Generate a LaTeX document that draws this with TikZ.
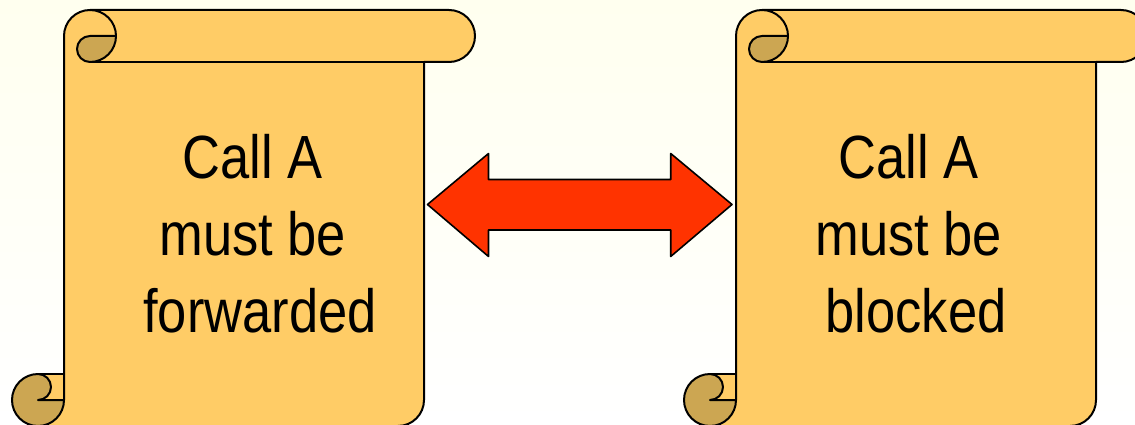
\documentclass[tikz,border=0pt]{standalone}
\usepackage{fontspec}
\setmainfont[FakeStretch=0.86]{Liberation Sans}
\definecolor{papertop}{HTML}{FFFFEF}
\definecolor{paperbottom}{HTML}{FFFFFF}
\definecolor{scrollfill}{HTML}{FFCC66}
\definecolor{rollfill}{HTML}{CCA652}
\definecolor{arrowred}{HTML}{FF3300}
\tikzset{
  outline/.style={draw=black,line width=2pt,line join=round},
  textblock/.style={font=\fontsize{61}{77}\selectfont,align=center,inner sep=0pt,text=black},
  scrollshape/.pic={
    \fill[scrollfill]
      (64,388) arc[start angle=180,end angle=90,radius=26] -- (449,414)
      arc[start angle=90,end angle=-90,radius=26] -- (424,362) -- (424,24)
      arc[start angle=0,end angle=-90,radius=26] -- (38,-2) -- (64,24) -- cycle;
    \path[outline]
      (64,24) -- (64,388) arc[start angle=180,end angle=90,radius=26] -- (449,414)
      arc[start angle=90,end angle=-90,radius=26] -- (424,362) -- (424,24)
      arc[start angle=0,end angle=-90,radius=26];
    \path[outline] (90,414) arc[start angle=90,end angle=0,radius=26];
    \path[outline,fill=rollfill]
      (90,388) -- (116,388) arc[start angle=0,end angle=-90,radius=26]
      arc[start angle=-90,end angle=-270,radius=13] -- cycle;
    \path[outline] (90,362) -- (449,362);
    \path[outline,fill=scrollfill] (38,24) -- (38,50) -- (64,50) -- (64,24);
    \path[outline,fill=rollfill]
      (38,24) -- (64,24) arc[start angle=0,end angle=-270,radius=26]
      arc[start angle=90,end angle=-90,radius=13] -- cycle;
  }
}
\begin{document}
\begin{tikzpicture}[x=1pt,y=1pt]
\useasboundingbox (0,0) rectangle (1135,424);
\clip (0,0) rectangle (1135,424);
\shade[top color=papertop,bottom color=paperbottom] (0,0) rectangle (1135,424);
\pic at (0,0) {scrollshape};
\pic at (672,0) {scrollshape};
\path[outline,line width=1.6pt,fill=arrowred]
  (427.5,219.5) -- (488.5,270.5) -- (488.5,244.5) -- (670.7,244.5) -- (670.7,270.5)
  -- (732,219.5) -- (670.7,167.5) -- (670.7,194) -- (488.5,194) -- (488.5,167.5) -- cycle;
\node[textblock] (left) at (260,190) {Call A~\null\\must be~\null\\forwarded};
\node[textblock] (right) at (916,190) {Call A~\null\\must be~\null\\blocked};
\end{tikzpicture}
\end{document}
